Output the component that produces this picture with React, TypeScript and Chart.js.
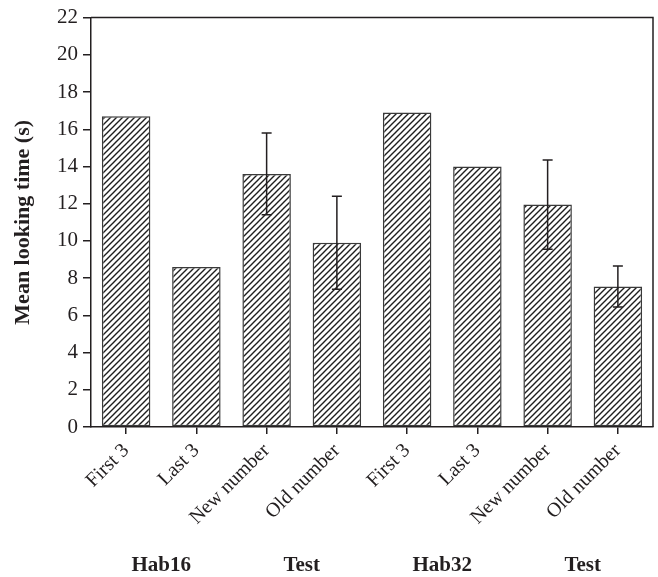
import React, { useEffect, useRef } from "react";
import { Chart, registerables } from "chart.js";

Chart.register(...registerables);

const categories = ["First 3", "Last 3", "New number", "Old number", "First 3", "Last 3", "New number", "Old number"];
const meanValues = [16.7, 8.6, 13.6, 9.9, 16.9, 14.0, 11.95, 7.55];
const errorValues: (number | null)[] = [null, null, 2.2, 2.5, null, null, 2.4, 1.1];
const groupLabels = ["Hab16", "Test", "Hab32", "Test"];
const yMin = 0;
const yMax = 22;
const yStep = 2;
const yTitle = "Mean looking time (s)";

const FONT = '"Liberation Serif", "Times New Roman", serif';
const INK = "#231f20";

function makePattern(): CanvasPattern | string {
  const s = 6;
  const c = document.createElement("canvas");
  c.width = s;
  c.height = s;
  const ctx = c.getContext("2d");
  if (!ctx) return "#fff";
  ctx.fillStyle = "#ffffff";
  ctx.fillRect(0, 0, s, s);
  ctx.strokeStyle = "#1e1e1e";
  ctx.lineWidth = 1.4;
  ctx.beginPath();
  [0, 6, 12].forEach((k) => {
    ctx.moveTo(k + 2, -2);
    ctx.lineTo(k - s - 2, s + 2);
  });
  ctx.stroke();
  return ctx.createPattern(c, "repeat") || "#fff";
}

const errorBarPlugin = {
  id: "errorBars",
  afterDatasetsDraw(chart: any) {
    const meta = chart.getDatasetMeta(0);
    const ys = chart.scales.y;
    const ctx = chart.ctx;
    ctx.save();
    ctx.strokeStyle = INK;
    ctx.lineWidth = 1.5;
    meanValues.forEach((v, i) => {
      const e = errorValues[i];
      if (e == null) return;
      const x = meta.data[i].x;
      const yt = ys.getPixelForValue(v + e);
      const yb = ys.getPixelForValue(v - e);
      const cap = 5;
      ctx.beginPath();
      ctx.moveTo(x, yt);
      ctx.lineTo(x, yb);
      ctx.moveTo(x - cap, yt);
      ctx.lineTo(x + cap, yt);
      ctx.moveTo(x - cap, yb);
      ctx.lineTo(x + cap, yb);
      ctx.stroke();
    });
    ctx.restore();
  },
};

const framePlugin = {
  id: "frameAndGroups",
  afterDraw(chart: any) {
    const { ctx, chartArea } = chart;
    const xs = chart.scales.x;
    ctx.save();
    ctx.strokeStyle = INK;
    ctx.lineWidth = 1.5;
    ctx.beginPath();
    ctx.moveTo(chartArea.left, chartArea.top);
    ctx.lineTo(chartArea.right, chartArea.top);
    ctx.lineTo(chartArea.right, chartArea.bottom);
    ctx.stroke();
    ctx.fillStyle = INK;
    ctx.font = `bold 21px ${FONT}`;
    ctx.textAlign = "center";
    ctx.textBaseline = "middle";
    groupLabels.forEach((g, k) => {
      const x = (xs.getPixelForValue(2 * k) + xs.getPixelForValue(2 * k + 1)) / 2;
      ctx.fillText(g, x, 566);
    });
    ctx.restore();
  },
};

export default function App() {
  const ref = useRef<HTMLCanvasElement>(null);
  useEffect(() => {
    if (!ref.current) return;
    const pattern = makePattern();
    const chart = new Chart(ref.current, {
      type: "bar",
      data: {
        labels: categories,
        datasets: [
          {
            data: meanValues,
            backgroundColor: pattern as any,
            borderColor: "#3a3a3a",
            borderWidth: 1.5,
            borderSkipped: false,
            barPercentage: 0.69,
            categoryPercentage: 1,
          },
        ],
      },
      options: {
        animation: false,
        responsive: false,
        maintainAspectRatio: false,
        layout: { padding: { top: 15, right: 5, left: 0, bottom: 0 } },
        plugins: { legend: { display: false }, tooltip: { enabled: false } },
        scales: {
          x: {
            afterFit: (s: any) => {
              s.height = 150;
            },
            grid: {
              display: true,
              drawOnChartArea: false,
              drawTicks: true,
              tickLength: 7,
              color: INK,
              lineWidth: 1.5,
              offset: false,
            },
            border: { display: true, color: INK, width: 1.5 },
            ticks: {
              color: INK,
              font: { family: FONT, size: 20 },
              minRotation: 45,
              maxRotation: 45,
              padding: 5,
              autoSkip: false,
            },
          },
          y: {
            min: yMin,
            max: yMax,
            afterFit: (s: any) => {
              s.width = 91;
            },
            grid: {
              display: true,
              drawOnChartArea: false,
              drawTicks: true,
              tickLength: 8,
              color: INK,
              lineWidth: 1.5,
            },
            border: { display: true, color: INK, width: 1.5 },
            ticks: {
              stepSize: yStep,
              color: INK,
              font: { family: FONT, size: 21 },
              padding: 5,
            },
            title: {
              display: true,
              text: yTitle,
              color: INK,
              font: { family: FONT, size: 22, weight: "bold" },
              padding: { top: 10, bottom: 0 },
            },
          },
        },
      },
      plugins: [errorBarPlugin, framePlugin],
    });
    return () => chart.destroy();
  }, []);
  return (
    <div style={{ position: "fixed", left: 0, top: 0, width: 658, height: 577, background: "#fff" }}>
      <canvas ref={ref} width={658} height={577} style={{ width: 658, height: 577 }} />
    </div>
  );
}
